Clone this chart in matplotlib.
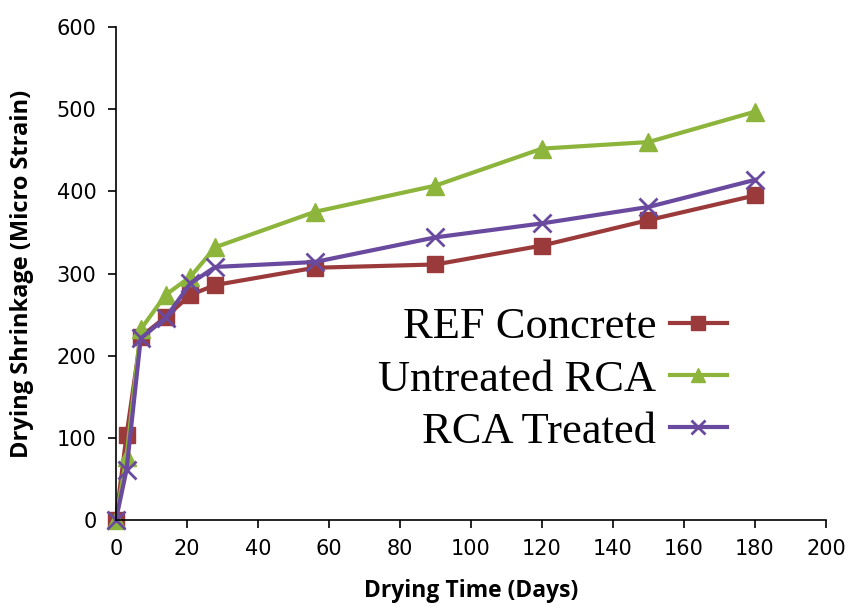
import numpy as np
import matplotlib.pyplot as plt

days = [0, 3, 7, 14, 21, 28, 56, 90, 120, 150, 180]
ref_concrete = [0, 103, 223, 247, 274, 286, 307, 311, 334, 365, 395]
untreated_rca = [0, 77, 232, 274, 296, 332, 375, 407, 452, 460, 497]
rca_treated = [0, 61, 221, 246, 288, 308, 314, 344, 361, 381, 414]

fig = plt.figure(figsize=(8.52, 6.07), dpi=100)
ax = fig.add_axes([0.136, 0.1433, 0.8335, 0.8122])

ax.plot(days, ref_concrete, color='#9b3a3a', lw=3, marker='s', ms=12,
        label='REF Concrete', clip_on=False)
ax.plot(days, untreated_rca, color='#8db53c', lw=3, marker='^', ms=13,
        label='Untreated RCA', clip_on=False)
ax.plot(days, rca_treated, color='#6a4a9e', lw=3, marker='x', ms=13, mew=2,
        label='RCA Treated', clip_on=False)

ax.set_xlim(0, 200)
ax.set_ylim(0, 600)
ax.set_xticks(np.arange(0, 201, 20))
ax.set_yticks(np.arange(0, 601, 100))
for s in ['top', 'right']:
    ax.spines[s].set_visible(False)
ax.spines['left'].set_linewidth(1.2)
ax.spines['bottom'].set_linewidth(1.2)
ax.tick_params(direction='out', length=6, width=1.2, labelsize=15, pad=8)
for lab in ax.get_xticklabels() + ax.get_yticklabels():
    lab.set_family('Liberation Sans Narrow')

ax.set_xlabel('Drying Time (Days)', fontsize=16.5, fontweight='bold',
              family='Open Sans', labelpad=14)
ax.set_ylabel('Drying Shrinkage (Micro Strain)', fontsize=17, fontweight='bold',
              family='Open Sans', labelpad=16)

leg = ax.legend(loc='center right', bbox_to_anchor=(0.861, 0.285), markerfirst=False,
                frameon=False, prop={'family': 'Liberation Serif', 'size': 32},
                handlelength=1.3, labelspacing=0.27, handletextpad=0.3, markerscale=0.8,
                borderaxespad=0, borderpad=0)
for t in leg.get_texts():
    t.set_ha('right')

fig.savefig('out.png', dpi=100)
